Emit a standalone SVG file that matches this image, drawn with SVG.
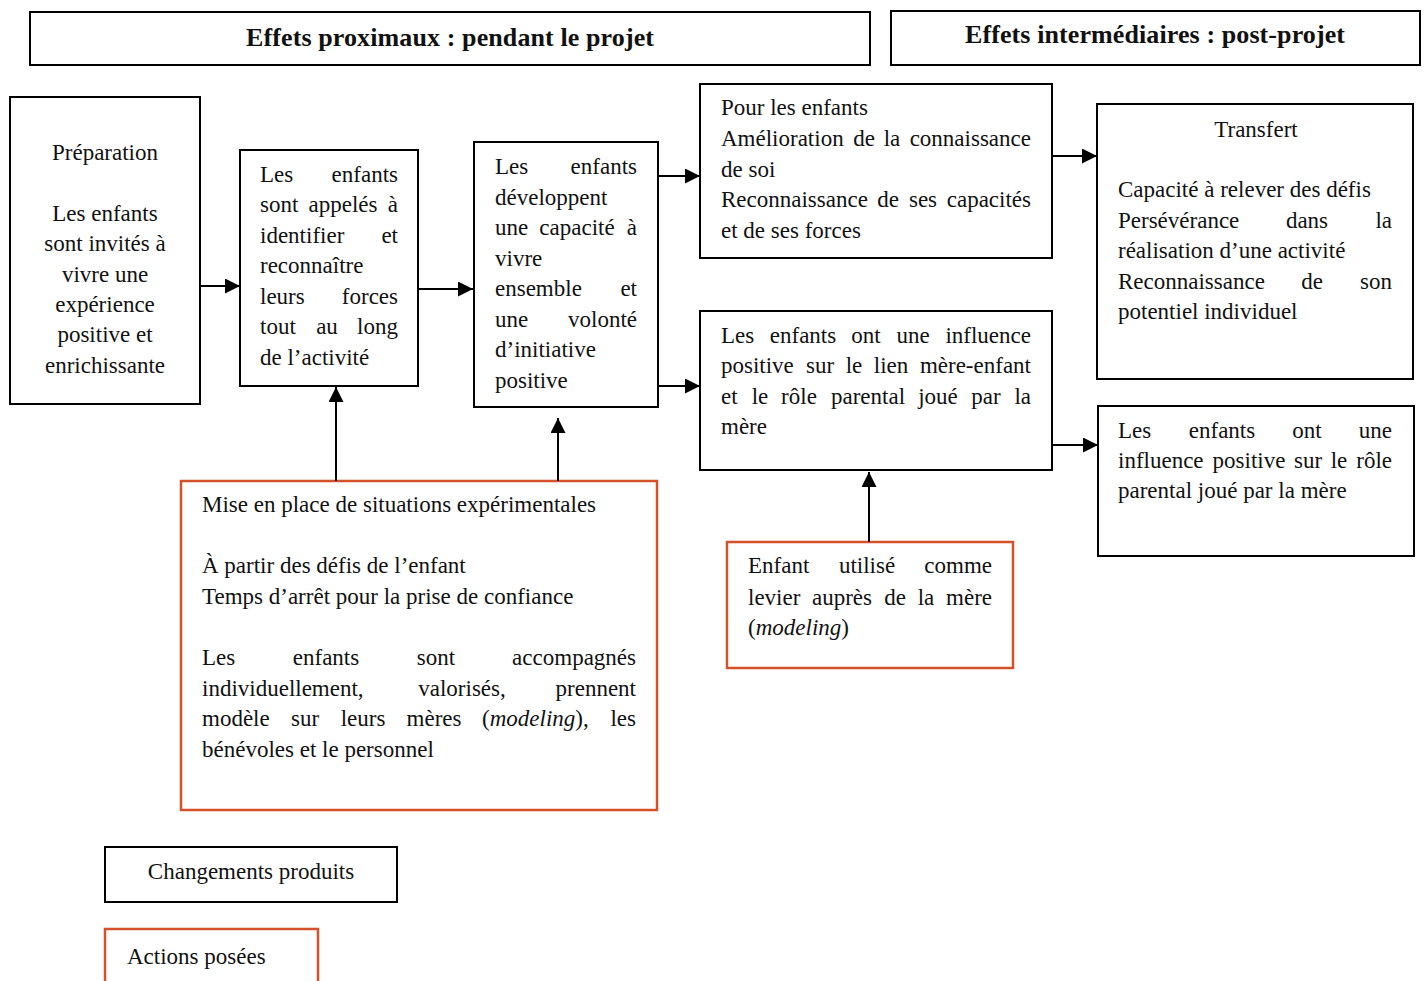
<svg xmlns="http://www.w3.org/2000/svg" width="1427" height="981" viewBox="0 0 1427 981">
<style>
.b{fill:#fff;stroke:#000;stroke-width:2}
.o{fill:#fff;stroke:#D4512A;stroke-width:2.5}
.t{font-family:"Liberation Serif",serif;font-size:23px;fill:#111}
.h{font-family:"Liberation Serif",serif;font-size:26px;font-weight:bold;fill:#111}
.e{text-anchor:end}
.m{text-anchor:middle}
.i{font-style:italic}
.c{stroke:#000;stroke-width:2;fill:none}
</style>
<defs>
<marker id="ar" markerUnits="userSpaceOnUse" markerWidth="16" markerHeight="16" refX="15" refY="7.5" orient="auto">
<path d="M0,0 L15,7.5 L0,15 Z" fill="#000"/>
</marker>
</defs>

<g id="header-proximaux">
<rect class="b" x="30" y="12" width="840" height="53"/>
<text class="h m" x="450" y="46" textLength="408" lengthAdjust="spacing">Effets proximaux : pendant le projet</text>
</g>
<g id="header-intermediaires">
<rect class="b" x="891" y="11" width="529" height="54"/>
<text class="h m" x="1155" y="43" textLength="380" lengthAdjust="spacing">Effets intermédiaires : post-projet</text>
</g>

<g id="preparation">
<rect class="b" x="10" y="97" width="190" height="307"/>
<text class="t m"><tspan x="105" y="160">Préparation</tspan><tspan x="105" y="221">Les enfants</tspan><tspan x="105" y="251">sont invités à</tspan><tspan x="105" y="282">vivre une</tspan><tspan x="105" y="312">expérience</tspan><tspan x="105" y="342">positive et</tspan><tspan x="105" y="373">enrichissante</tspan></text>
</g>

<g id="identifier">
<rect class="b" x="240" y="150" width="178" height="236"/>
<text class="t"><tspan x="260" y="182">Les</tspan><tspan class="e" x="398" y="182">enfants</tspan><tspan x="260" y="212">sont</tspan><tspan class="m" x="343" y="212">appelés</tspan><tspan class="e" x="398" y="212">à</tspan><tspan x="260" y="243">identifier</tspan><tspan class="e" x="398" y="243">et</tspan><tspan x="260" y="273">reconnaître</tspan><tspan x="260" y="304">leurs</tspan><tspan class="e" x="398" y="304">forces</tspan><tspan x="260" y="334">tout</tspan><tspan class="m" x="327" y="334">au</tspan><tspan class="e" x="398" y="334">long</tspan><tspan x="260" y="365">de l’activité</tspan></text>
</g>

<g id="vivre-ensemble">
<rect class="b" x="474" y="142" width="184" height="265"/>
<text class="t"><tspan x="495" y="174">Les</tspan><tspan class="e" x="637" y="174">enfants</tspan><tspan x="495" y="205">développent</tspan><tspan x="495" y="235">une</tspan><tspan class="m" x="577" y="235">capacité</tspan><tspan class="e" x="637" y="235">à</tspan><tspan x="495" y="266">vivre</tspan><tspan x="495" y="296">ensemble</tspan><tspan class="e" x="637" y="296">et</tspan><tspan x="495" y="327">une</tspan><tspan class="e" x="637" y="327">volonté</tspan><tspan x="495" y="357">d’initiative</tspan><tspan x="495" y="388">positive</tspan></text>
</g>

<g id="pour-les-enfants">
<rect class="b" x="700" y="84" width="352" height="174"/>
<text class="t"><tspan x="721" y="115">Pour les enfants</tspan><tspan x="721" y="146">Amélioration</tspan><tspan class="m" x="864" y="146">de</tspan><tspan class="m" x="892" y="146">la</tspan><tspan class="e" x="1031" y="146">connaissance</tspan><tspan x="721" y="177">de soi</tspan><tspan x="721" y="207">Reconnaissance</tspan><tspan class="m" x="888" y="207">de</tspan><tspan class="m" x="923" y="207">ses</tspan><tspan class="e" x="1031" y="207">capacités</tspan><tspan x="721" y="238">et de ses forces</tspan></text>
</g>

<g id="lien-mere-enfant">
<rect class="b" x="700" y="311" width="352" height="159"/>
<text class="t"><tspan x="721" y="343">Les</tspan><tspan class="m" x="803" y="343">enfants</tspan><tspan class="m" x="866" y="343">ont</tspan><tspan class="m" x="913" y="343">une</tspan><tspan class="e" x="1031" y="343">influence</tspan><tspan x="721" y="373">positive</tspan><tspan class="m" x="820" y="373">sur</tspan><tspan class="m" x="854" y="373">le</tspan><tspan class="m" x="891" y="373">lien</tspan><tspan class="e" x="1031" y="373">mère-enfant</tspan><tspan x="721" y="404">et</tspan><tspan class="m" x="760" y="404">le</tspan><tspan class="m" x="799" y="404">rôle</tspan><tspan class="m" x="868" y="404">parental</tspan><tspan class="m" x="938" y="404">joué</tspan><tspan class="m" x="986" y="404">par</tspan><tspan class="e" x="1031" y="404">la</tspan><tspan x="721" y="434">mère</tspan></text>
</g>

<g id="transfert">
<rect class="b" x="1097" y="104" width="316" height="275"/>
<text class="t"><tspan class="m" x="1256" y="137">Transfert</tspan><tspan x="1118" y="197">Capacité à relever des défis</tspan><tspan x="1118" y="228">Persévérance</tspan><tspan class="m" x="1307" y="228">dans</tspan><tspan class="e" x="1392" y="228">la</tspan><tspan x="1118" y="258">réalisation d’une activité</tspan><tspan x="1118" y="289">Reconnaissance</tspan><tspan class="m" x="1312" y="289">de</tspan><tspan class="e" x="1392" y="289">son</tspan><tspan x="1118" y="319">potentiel individuel</tspan></text>
</g>

<g id="role-parental">
<rect class="b" x="1098" y="406" width="316" height="150"/>
<text class="t"><tspan x="1118" y="438">Les</tspan><tspan class="m" x="1222" y="438">enfants</tspan><tspan class="m" x="1307" y="438">ont</tspan><tspan class="e" x="1392" y="438">une</tspan><tspan x="1118" y="468">influence</tspan><tspan class="m" x="1249" y="468">positive</tspan><tspan class="m" x="1308" y="468">sur</tspan><tspan class="m" x="1339" y="468">le</tspan><tspan class="e" x="1392" y="468">rôle</tspan><tspan x="1118" y="498">parental joué par la mère</tspan></text>
</g>

<g id="situations-experimentales">
<rect class="o" x="181" y="481" width="476" height="329"/>
<text class="t"><tspan x="202" y="512">Mise en place de situations expérimentales</tspan><tspan x="202" y="573">À partir des défis de l’enfant</tspan><tspan x="202" y="604">Temps d’arrêt pour la prise de confiance</tspan><tspan x="202" y="665">Les</tspan><tspan class="m" x="326" y="665">enfants</tspan><tspan class="m" x="436" y="665">sont</tspan><tspan class="e" x="636" y="665">accompagnés</tspan><tspan x="202" y="696">individuellement,</tspan><tspan class="m" x="462" y="696">valorisés,</tspan><tspan class="e" x="636" y="696">prennent</tspan><tspan x="202" y="726">modèle</tspan><tspan class="m" x="305" y="726">sur</tspan><tspan class="m" x="363" y="726">leurs</tspan><tspan class="m" x="434" y="726">mères</tspan><tspan x="482" y="726">(</tspan><tspan class="i">modeling</tspan><tspan>),</tspan><tspan class="e" x="636" y="726">les</tspan><tspan x="202" y="757">bénévoles et le personnel</tspan></text>
</g>

<g id="enfant-levier">
<rect class="o" x="727" y="542" width="286" height="126"/>
<text class="t"><tspan x="748" y="573">Enfant</tspan><tspan class="m" x="867" y="573">utilisé</tspan><tspan class="e" x="992" y="573">comme</tspan><tspan x="748" y="605">levier</tspan><tspan class="m" x="842" y="605">auprès</tspan><tspan class="m" x="895" y="605">de</tspan><tspan class="m" x="926" y="605">la</tspan><tspan class="e" x="992" y="605">mère</tspan><tspan x="748" y="635">(</tspan><tspan class="i">modeling</tspan><tspan>)</tspan></text>
</g>

<g id="legend-changements">
<rect class="b" x="105" y="847" width="292" height="55"/>
<text class="t m" x="251" y="879">Changements produits</text>
</g>
<g id="legend-actions">
<rect class="o" x="105" y="929" width="213" height="70"/>
<text class="t" x="127" y="964">Actions posées</text>
</g>

<g id="connectors">
<line class="c" x1="200" y1="286" x2="240" y2="286" marker-end="url(#ar)"/>
<line class="c" x1="418" y1="289" x2="473" y2="289" marker-end="url(#ar)"/>
<line class="c" x1="658" y1="176" x2="700" y2="176" marker-end="url(#ar)"/>
<line class="c" x1="658" y1="386" x2="700" y2="386" marker-end="url(#ar)"/>
<line class="c" x1="1052" y1="156" x2="1097" y2="156" marker-end="url(#ar)"/>
<line class="c" x1="1052" y1="445" x2="1098" y2="445" marker-end="url(#ar)"/>
<line class="c" x1="336" y1="481" x2="336" y2="387" marker-end="url(#ar)"/>
<line class="c" x1="558" y1="481" x2="558" y2="418" marker-end="url(#ar)"/>
<line class="c" x1="869" y1="542" x2="869" y2="472" marker-end="url(#ar)"/>
</g>
</svg>
